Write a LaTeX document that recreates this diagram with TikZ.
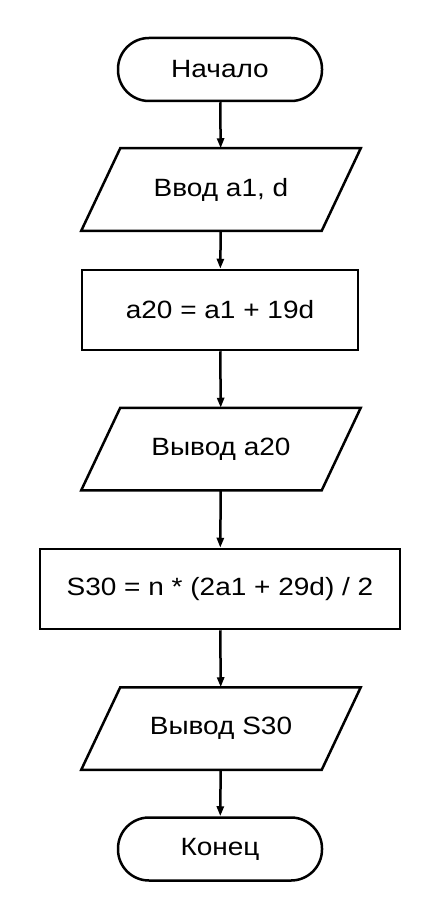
\documentclass[tikz,border=0pt]{standalone}
\usepackage{fontspec}
\setmainfont[FakeStretch=1.12]{Liberation Sans}
\usetikzlibrary{arrows.meta}

\begin{document}
\begin{tikzpicture}[x=1pt,y=-1pt,
  every node/.style={font=\fontsize{25}{30}\selectfont, line width=2.5pt, inner sep=0pt},
  term/.style={draw, rectangle, rounded corners=31pt, minimum width=204pt, minimum height=63pt},
  io/.style={rectangle, minimum width=238pt, minimum height=80pt},
  proc/.style={draw, rectangle, minimum height=80pt},
  box/.style={line width=2.5pt},
  arr/.style={line width=2.5pt, -{Triangle[length=10pt,width=7pt]}}]
  \useasboundingbox (0,0) rectangle (440,920);
  \node[term] (start) at (220,69.5) {Начало};
  \node[io] (in) at (221,189.5) {Ввод a1, d};
  \node[proc, minimum width=276pt] (calcA) at (220,310) {a20 = a1 + 19d};
  \node[io] (outA) at (221,449) {Вывод a20};
  \node[proc, minimum width=360pt] (calcS) at (220,589) {S30 = n * (2a1 + 29d) / 2};
  \node[io] (outS) at (221,728.5) {Вывод S30};
  \node[term] (stop) at (220,849) {Конец};
  % parallelograms for input/output
  \foreach \n in {in,outA,outS}
    \draw[box] ([xshift=-19.5pt]\n.south west) -- ([xshift=19.5pt]\n.north west)
      -- ([xshift=19.5pt]\n.north east) -- ([xshift=-19.5pt]\n.south east) -- cycle;
  \draw[arr] (start) -- (in);
  \draw[arr] (in) -- (calcA);
  \draw[arr] (calcA) -- (outA);
  \draw[arr] (outA) -- (calcS);
  \draw[arr] (calcS) -- (outS);
  \draw[arr] (outS) -- (stop);
\end{tikzpicture}
\end{document}
